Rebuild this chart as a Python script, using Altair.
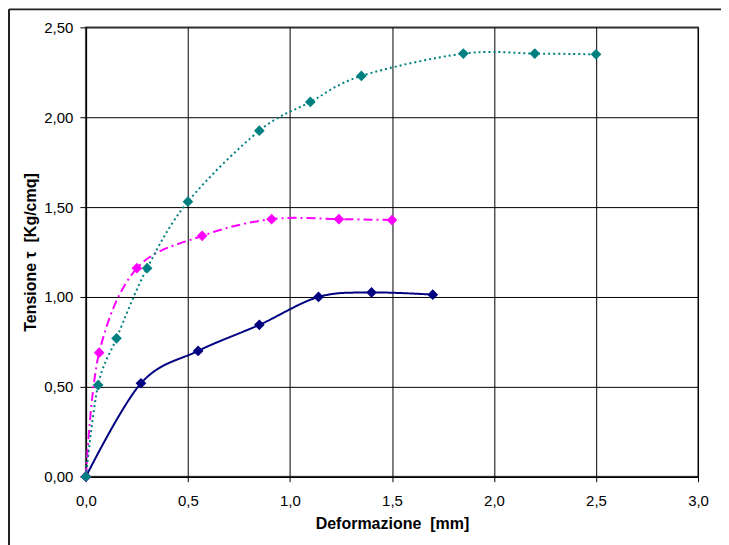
import altair as alt
import pandas as pd

# Series data (Deformazione [mm], Tensione [Kg/cmq])
navy_x = [0.0, 0.27, 0.55, 0.85, 1.14, 1.40, 1.70]
navy_y = [0.0, 0.52, 0.70, 0.845, 1.00, 1.025, 1.013]

magenta_x = [0.0, 0.065, 0.25, 0.57, 0.91, 1.24, 1.50]
magenta_y = [0.0, 0.69, 1.16, 1.34, 1.433, 1.433, 1.428]

teal_x = [0.0, 0.06, 0.15, 0.30, 0.50, 0.85, 1.10, 1.35, 1.85, 2.20, 2.50]
teal_y = [0.0, 0.51, 0.77, 1.16, 1.53, 1.925, 2.085, 2.23, 2.354, 2.354, 2.35]

x_ticks = [0.0, 0.5, 1.0, 1.5, 2.0, 2.5, 3.0]
y_ticks = [0.0, 0.5, 1.0, 1.5, 2.0, 2.5]

series_names = ["A", "B", "C"]
series_colors = ["#000080", "#FF00FF", "#008080"]
series_dash = [[1, 0], [9, 4, 2, 4], [2, 3]]

rows = []
for name, xs, ys in zip(series_names, [navy_x, magenta_x, teal_x], [navy_y, magenta_y, teal_y]):
    for i, (x, y) in enumerate(zip(xs, ys)):
        rows.append({"serie": name, "x": x, "y": y, "i": i})
df = pd.DataFrame(rows)

FONT = "Liberation Sans"
NB = "\u00a0"

x_enc = alt.X(
    "x:Q",
    scale=alt.Scale(domain=[0, 3], nice=False),
    axis=alt.Axis(
        values=x_ticks,
        labelExpr="replace(format(datum.value, '.1f'), '.', ',')",
        labelFlush=False,
        title="Deformazione" + NB + NB + "[mm]",
        titleX=306.5,
        titleY=47,
        titleBaseline="middle",
        labelPadding=12,
        tickSize=5,
        grid=True,
    ),
)
y_enc = alt.Y(
    "y:Q",
    scale=alt.Scale(domain=[0, 2.5], nice=False),
    axis=alt.Axis(
        values=y_ticks,
        labelExpr="replace(format(datum.value, '.2f'), '.', ',')",
        labelFlush=False,
        title="Tensione" + NB + "τ" + NB + NB + "[Kg/cmq]",
        titleX=-55,
        titleY=225,
        titleAngle=-90,
        titleBaseline="middle",
        titleAlign="center",
        labelPadding=7,
        tickSize=6,
        grid=True,
    ),
)
color_enc = alt.Color(
    "serie:N",
    scale=alt.Scale(domain=series_names, range=series_colors),
    legend=None,
)

base = alt.Chart(df)

lines = base.mark_line(interpolate="cardinal", strokeWidth=2).encode(
    x=x_enc,
    y=y_enc,
    color=color_enc,
    strokeDash=alt.StrokeDash(
        "serie:N",
        scale=alt.Scale(domain=series_names, range=series_dash),
        legend=None,
    ),
    order="i:Q",
)

points = base.mark_point(shape="diamond", filled=True, opacity=1, size=115).encode(
    x="x:Q",
    y="y:Q",
    color=color_enc,
)

frame_df = pd.DataFrame({"k": [0]})
frame_left = alt.Chart(frame_df).mark_rule(color="#222222", strokeWidth=2).encode(
    x=alt.value(-77), y=alt.value(-18), y2=alt.value(520)
)
frame_top = alt.Chart(frame_df).mark_rule(color="#222222", strokeWidth=2).encode(
    x=alt.value(-77), x2=alt.value(637), y=alt.value(-18)
)
frame_right = alt.Chart(frame_df).mark_rule(color="#222222", strokeWidth=2).encode(
    x=alt.value(637), y=alt.value(-18), y2=alt.value(520)
)

chart = (
    alt.layer(lines, points, frame_left, frame_top, frame_right)
    .properties(
        width=613,
        height=450,
        autosize=alt.AutoSizeParams(type="none"),
        padding={"left": 78, "top": 19, "right": 23, "bottom": 68},
        background="white",
    )
    .configure_view(stroke="#808080", strokeWidth=2)
    .configure_axis(
        labelFont=FONT,
        labelFontSize=15,
        labelColor="#000000",
        titleFont=FONT,
        titleFontSize=16,
        titleFontWeight="bold",
        titleColor="#000000",
        gridColor="#000000",
        gridWidth=1,
        gridOpacity=1,
        domainColor="#000000",
        domainWidth=1.5,
        tickColor="#000000",
        tickWidth=1,
    )
)

chart.save("out.html", embed_options={"renderer": "svg", "actions": False})
